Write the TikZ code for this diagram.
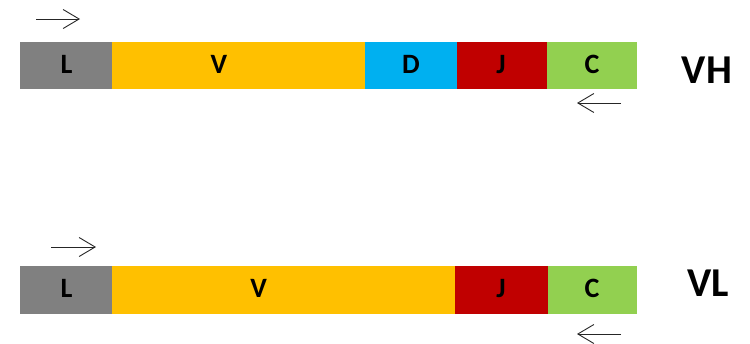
\documentclass[tikz,border=0pt]{standalone}
\usepackage{fontspec}
\setmainfont{Carlito}
\usetikzlibrary{arrows.meta}
\definecolor{cL}{HTML}{808080}
\definecolor{cV}{HTML}{FFC000}
\definecolor{cD}{HTML}{00B0F0}
\definecolor{cJ}{HTML}{C00000}
\definecolor{cC}{HTML}{92D050}
\tikzset{
  seg/.style={rectangle, inner sep=0pt, outer sep=0pt, draw=none},
  seglabel/.style={anchor=base, inner sep=0pt, font=\fontsize{28}{28}\selectfont\bfseries, text=black},
  chain/.style={anchor=base, font=\fontsize{41}{41}\selectfont\bfseries, text=black, inner sep=0pt},
  dirarrow/.style={line width=0.9pt, draw=black!85, -{Straight Barb[length=16pt,width=19pt,line width=0.9pt]}}
}
\begin{document}
\begin{tikzpicture}[x=1pt,y=-1pt]
\useasboundingbox (0,0) rectangle (750,343);
% top chain VH
\node[seg, fill=cL, minimum width=92pt, minimum height=47pt] (L1) at (66,65.5) {};
\node[seg, fill=cV, minimum width=253pt, minimum height=47pt] (V1) at (238.5,65.5) {};
\node[seg, fill=cD, minimum width=92pt, minimum height=47pt] (D1) at (411,65.5) {};
\node[seg, fill=cJ, minimum width=90pt, minimum height=47pt] (J1) at (502,65.5) {};
\node[seg, fill=cC, minimum width=90pt, minimum height=47pt] (C1) at (592,65.5) {};
\node[seglabel] (tL1) at (66.5,73) {L};
\node[seglabel] (tV1) at (219,73) {V};
\node[seglabel] (tD1) at (411,73) {D};
\node[seglabel] (tJ1) at (501,73) {J};
\node[seglabel] (tC1) at (592,73) {C};
\node[chain] (VH) at (707,83.3) {VH};
% bottom chain VL
\node[seg, fill=cL, minimum width=92pt, minimum height=48pt] (L2) at (66,290) {};
\node[seg, fill=cV, minimum width=343pt, minimum height=48pt] (V2) at (283.5,290) {};
\node[seg, fill=cJ, minimum width=93pt, minimum height=48pt] (J2) at (501.5,290) {};
\node[seg, fill=cC, minimum width=89pt, minimum height=48pt] (C2) at (592.5,290) {};
\node[seglabel] (tL2) at (66.5,297) {L};
\node[seglabel] (tV2) at (258.7,297) {V};
\node[seglabel] (tJ2) at (501,297) {J};
\node[seglabel] (tC2) at (592,297) {C};
\node[chain] (VL) at (708,296.7) {VL};
% arrows
\coordinate (a1s) at (36,19);  \coordinate (a1e) at (80,19);
\coordinate (a2s) at (621,103); \coordinate (a2e) at (577,103);
\coordinate (a3s) at (51,247); \coordinate (a3e) at (96,247);
\coordinate (a4s) at (621,334); \coordinate (a4e) at (577,334);
\draw[dirarrow] (a1s) -- (a1e);
\draw[dirarrow] (a2s) -- (a2e);
\draw[dirarrow] (a3s) -- (a3e);
\draw[dirarrow] (a4s) -- (a4e);
\end{tikzpicture}
\end{document}
